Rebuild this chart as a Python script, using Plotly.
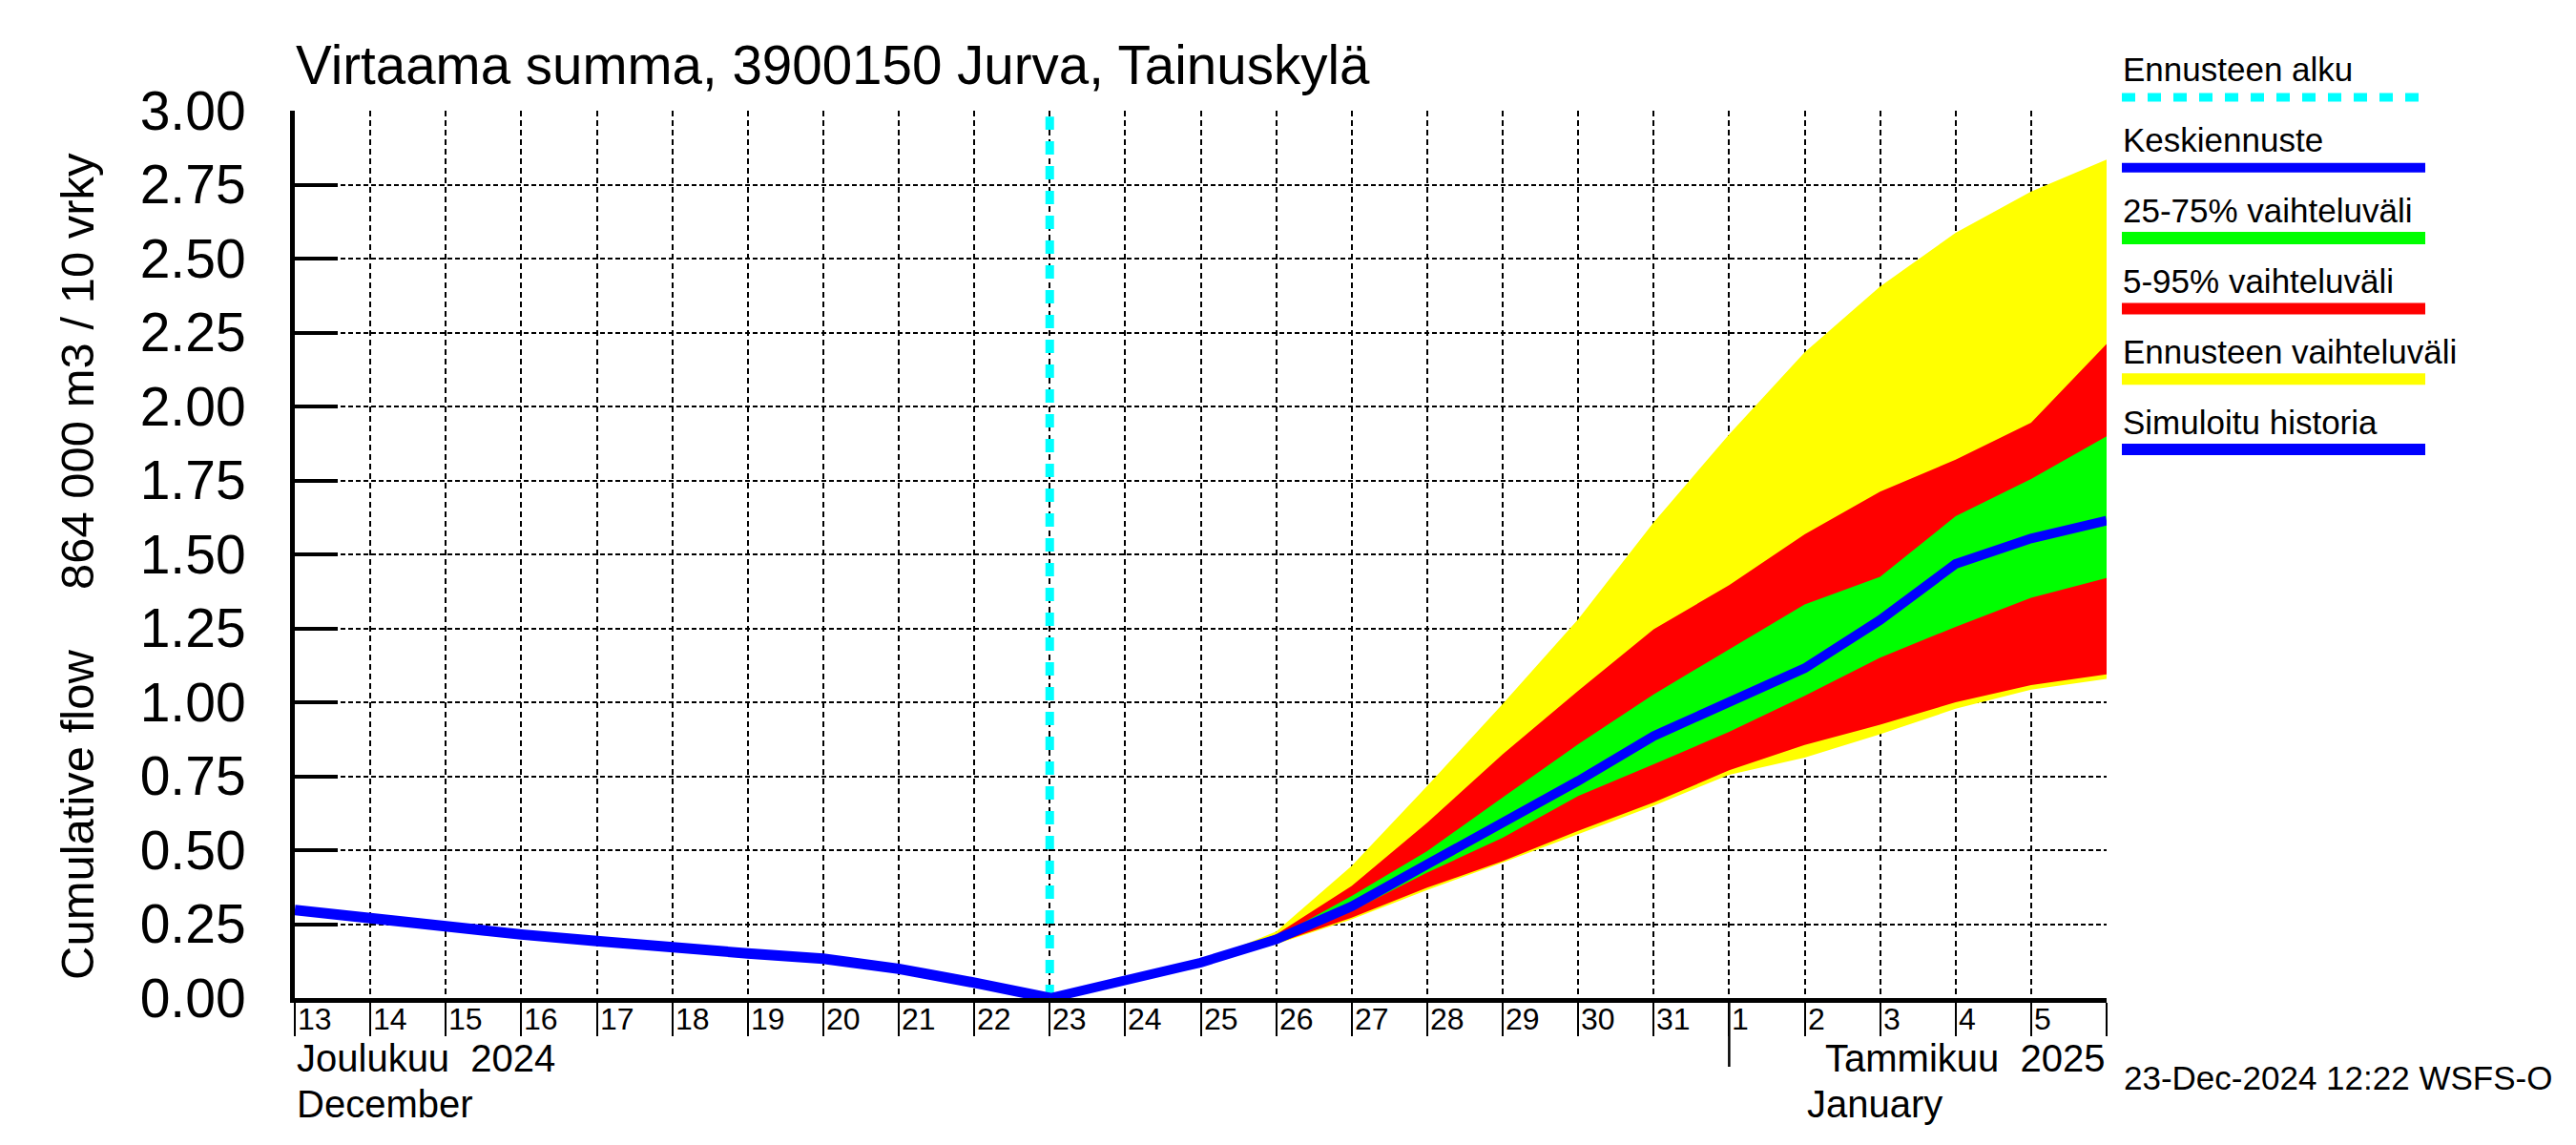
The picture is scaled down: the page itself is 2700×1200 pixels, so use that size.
import plotly.graph_objects as go
import pandas as pd

# ---------------- data ----------------
hist_dates = pd.date_range("2024-12-13", "2024-12-23", freq="D")
hist_vals = [0.298, 0.269, 0.241, 0.215, 0.193, 0.170, 0.151, 0.133, 0.099, 0.052, 0.0]

fc_dates = pd.date_range("2024-12-23", "2025-01-06", freq="D")
fc_median = [0.0, 0.058, 0.12, 0.198, 0.31, 0.452, 0.593, 0.734, 0.886, 1.0, 1.115, 1.278, 1.468, 1.554, 1.614]
fc_p25 = [0.0, 0.058, 0.12, 0.19, 0.294, 0.424, 0.542, 0.683, 0.79, 0.90, 1.022, 1.151, 1.255, 1.353, 1.42]
fc_p75 = [0.0, 0.058, 0.12, 0.205, 0.345, 0.497, 0.678, 0.858, 1.027, 1.18, 1.331, 1.424, 1.629, 1.755, 1.899]
fc_p05 = [0.0, 0.058, 0.12, 0.185, 0.272, 0.373, 0.463, 0.565, 0.661, 0.77, 0.856, 0.924, 1.0, 1.058, 1.094]
fc_p95 = [0.0, 0.058, 0.12, 0.215, 0.379, 0.593, 0.824, 1.039, 1.247, 1.396, 1.568, 1.712, 1.82, 1.945, 2.211]
fc_min = [0.0, 0.058, 0.12, 0.182, 0.266, 0.365, 0.458, 0.554, 0.65, 0.755, 0.813, 0.892, 0.978, 1.043, 1.079]
fc_max = [0.0, 0.058, 0.12, 0.225, 0.447, 0.717, 0.994, 1.281, 1.608, 1.906, 2.183, 2.406, 2.587, 2.727, 2.835]

forecast_start = pd.Timestamp("2024-12-23")
x_start = pd.Timestamp("2024-12-13")
x_end = pd.Timestamp("2025-01-06")
month_break = pd.Timestamp("2025-01-01")
label_days = pd.date_range("2024-12-13", "2025-01-05", freq="D")

y_ticks = [0.0, 0.25, 0.5, 0.75, 1.0, 1.25, 1.5, 1.75, 2.0, 2.25, 2.5, 2.75, 3.0]

title_text = "Virtaama summa, 3900150 Jurva, Tainuskylä"
ytitle_lower = "Cumulative flow"
ytitle_upper = "864 000 m3 / 10 vrky"
month1 = ["Joulukuu\u00a0 2024", "December"]
month2 = ["Tammikuu\u00a0 2025", "January"]
stamp = "23-Dec-2024 12:22 WSFS-O"

legend_items = [
    ("Ennusteen alku", "#00FFFF", 9, "14px,13px"),
    ("Keskiennuste", "#0000FF", 10, "solid"),
    ("25-75% vaihteluväli", "#00FF00", 13, "solid"),
    ("5-95% vaihteluväli", "#FF0000", 12, "solid"),
    ("Ennusteen vaihteluväli", "#FFFF00", 12, "solid"),
    ("Simuloitu historia", "#0000FF", 12, "solid"),
]

# ---------------- layout geometry ----------------
W, H = 2700, 1200
DX, DY = -7, -7
L, R, T, B = 301, 2200, 108, 1038
FONT = "Liberation Sans, Arial, sans-serif"


def px(x):
    return (x + DX - L) / (R - L)


def py(y):
    return (B - (y + DY)) / (B - T)


fig = go.Figure()


def band(lower, upper, color):
    xs = list(fc_dates) + list(fc_dates[::-1])
    ys = list(upper) + list(lower[::-1])
    fig.add_trace(go.Scatter(x=xs, y=ys, fill="toself", fillcolor=color,
                             line=dict(width=0, color=color), mode="lines",
                             hoverinfo="skip", showlegend=False))


band(fc_min, fc_max, "#FFFF00")
band(fc_p05, fc_p95, "#FF0000")
band(fc_p25, fc_p75, "#00FF00")

fig.add_trace(go.Scatter(x=[forecast_start, forecast_start], y=[0, 2.98], mode="lines",
                         line=dict(color="#00FFFF", width=9, dash="14px,12px"),
                         showlegend=False))
fig.add_trace(go.Scatter(x=hist_dates, y=hist_vals, mode="lines",
                         line=dict(color="#0000FF", width=11), showlegend=False))
fig.add_trace(go.Scatter(x=fc_dates, y=fc_median, mode="lines",
                         line=dict(color="#0000FF", width=10), showlegend=False))

annotations = []
shapes = []

# title
annotations.append(dict(text=title_text, xref="paper", yref="paper", x=px(307), y=py(67),
                        xanchor="left", yanchor="middle", showarrow=False,
                        font=dict(family=FONT, size=56.5, color="black")))

# y-axis titles
annotations.append(dict(text=ytitle_lower, xref="paper", yref="paper", x=px(80), y=py(853),
                        xanchor="center", yanchor="middle", textangle=-90, showarrow=False,
                        font=dict(family=FONT, size=49, color="black")))
annotations.append(dict(text=ytitle_upper, xref="paper", yref="paper", x=px(80), y=py(388),
                        xanchor="center", yanchor="middle", textangle=-90, showarrow=False,
                        font=dict(family=FONT, size=49, color="black")))

# day labels
for d in label_days:
    annotations.append(dict(text=str(d.day), xref="x", yref="paper", x=d, y=py(1067),
                            xanchor="left", yanchor="middle", xshift=1, showarrow=False,
                            font=dict(family=FONT, size=32, color="black")))

# month labels
annotations.append(dict(text=month1[0], xref="x", yref="paper", x=x_start, y=py(1108),
                        xanchor="left", yanchor="middle", showarrow=False,
                        font=dict(family=FONT, size=40, color="black")))
annotations.append(dict(text=month1[1], xref="x", yref="paper", x=x_start, y=py(1156),
                        xanchor="left", yanchor="middle", showarrow=False,
                        font=dict(family=FONT, size=40, color="black")))
annotations.append(dict(text=month2[0], xref="x", yref="paper", x=x_end, y=py(1108),
                        xanchor="right", yanchor="middle", showarrow=False,
                        font=dict(family=FONT, size=40, color="black")))
annotations.append(dict(text=month2[1], xref="x", yref="paper", x=month_break + pd.Timedelta(days=1),
                        y=py(1156), xanchor="left", yanchor="middle", xshift=0, showarrow=False,
                        font=dict(family=FONT, size=40, color="black")))

# month separator line
shapes.append(dict(type="line", xref="x", yref="paper", x0=month_break, x1=month_break,
                   y0=0, y1=py(1117), line=dict(color="black", width=2.5)))

# timestamp
annotations.append(dict(text=stamp, xref="paper", yref="paper", x=px(2223), y=py(1128),
                        xanchor="left", yanchor="middle", showarrow=False,
                        font=dict(family=FONT, size=35, color="black")))

# custom legend
for i, (name, color, width, dash) in enumerate(legend_items):
    text_y = 71.5 + i * 74
    line_y = 101 + i * 73.8
    annotations.append(dict(text=name, xref="paper", yref="paper", x=px(2222), y=py(text_y),
                            xanchor="left", yanchor="middle", showarrow=False,
                            font=dict(family=FONT, size=35, color="black")))
    shapes.append(dict(type="line", xref="paper", yref="paper", x0=px(2223), x1=px(2541),
                       y0=py(line_y), y1=py(line_y), line=dict(color=color, width=width, dash=dash)))

fig.update_layout(
    width=W, height=H,
    margin=dict(l=L, r=W - R, t=T, b=H - B, pad=0),
    paper_bgcolor="white", plot_bgcolor="white",
    showlegend=False,
    annotations=annotations,
    shapes=shapes,
    xaxis=dict(type="date", range=[x_start, x_end], showline=True, linewidth=5, linecolor="black",
               ticks="outside", ticklen=35, tickwidth=1.5, tickcolor="black",
               tick0="2024-12-13", dtick=86400000, showticklabels=False,
               showgrid=True, gridcolor="black", gridwidth=1.5, griddash="6px,4px",
               zeroline=False, fixedrange=True),
    yaxis=dict(range=[0, 3.0], tickvals=y_ticks, tickformat=".2f", ticks="inside", ticklen=45,
               tickwidth=4, tickcolor="black", showline=True, linewidth=5, linecolor="black",
               tickfont=dict(family=FONT, size=57, color="black"), ticklabelstandoff=35,
               showgrid=True, gridcolor="black", gridwidth=1.5, griddash="5px,3px",
               zeroline=False, fixedrange=True),
)

fig.write_html("out.html")
